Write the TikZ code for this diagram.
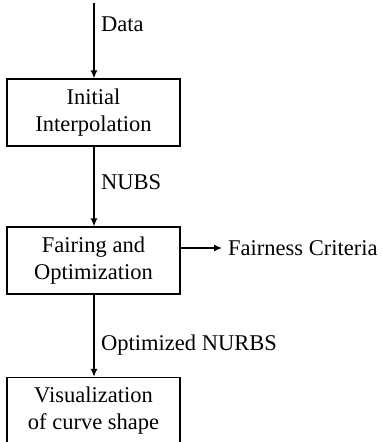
\documentclass[tikz,border=0pt]{standalone}
\usepackage{fontspec}
\setmainfont{Liberation Serif}
\usetikzlibrary{arrows.meta}
\begin{document}
\begin{tikzpicture}[x=1pt,y=-1pt,
  every node/.style={font=\fontsize{22.5}{27}\selectfont, inner sep=0pt},
  box/.style={draw, line width=1.3pt, minimum width=173pt, minimum height=67pt, align=center},
  arr/.style={line width=1.3pt, -{Latex[length=8pt,width=7pt]}},
  lbl/.style={anchor=west}]
\useasboundingbox (0,0) rectangle (382,442);
\clip (0,0) rectangle (382,442);
\node[box] (b1) at (93.5,112.5) {Initial\\Interpolation};
\node[box] (b2) at (93.5,260.5) {Fairing and\\Optimization};
\node[box] (b3) at (93.5,411) {Visualization\\of curve shape};
\coordinate (top) at (94,3);
\draw[arr] (top) -- (b1.north -| top);
\draw[arr] (b1.south -| top) -- (b2.north -| top);
\draw[arr] (b2.south -| top) -- (b3.north -| top);
\node[lbl] (data) at (101,24) {Data};
\node[lbl] (nubs) at (101,182) {NUBS};
\node[lbl] (nurbs) at (101,345) {Optimized NURBS};
\node[lbl, inner xsep=6pt] (fc) at (222,248) {Fairness Criteria};
\draw[arr] (b2.east |- fc.west) -- (fc.west);
\end{tikzpicture}
\end{document}
